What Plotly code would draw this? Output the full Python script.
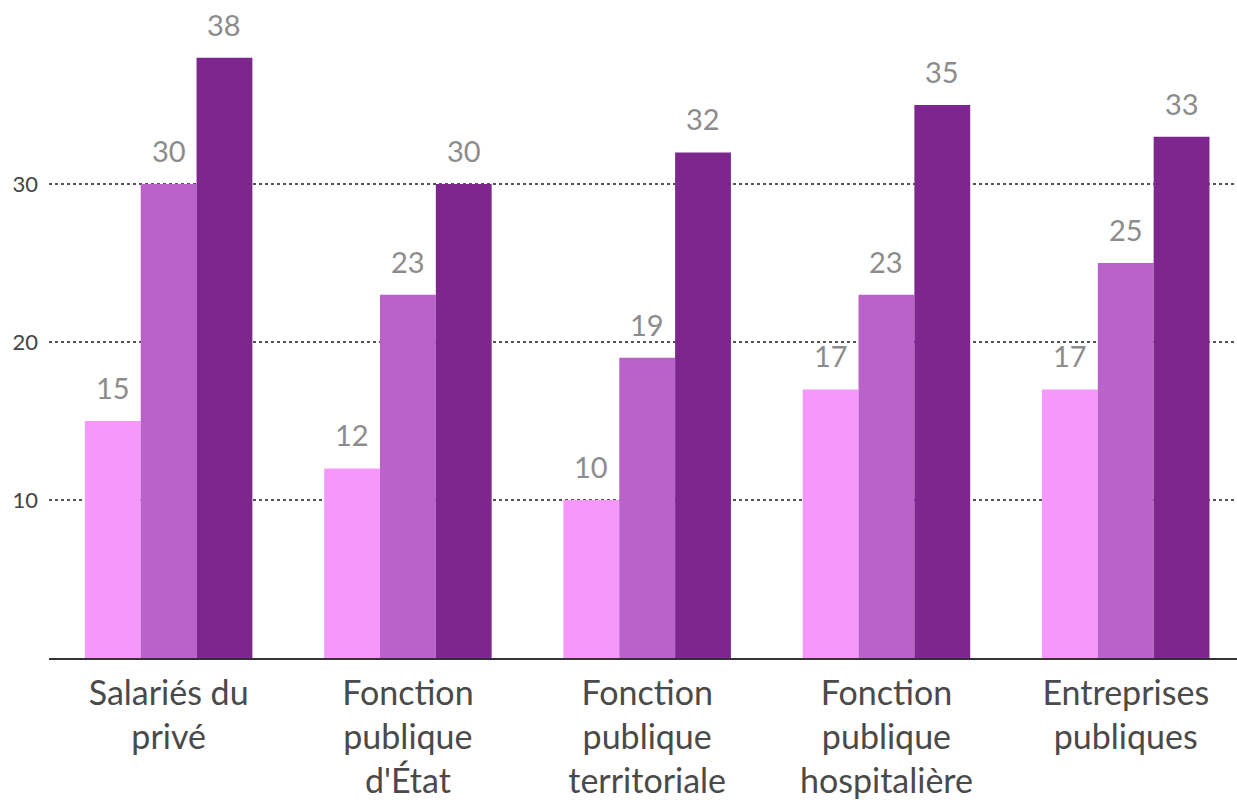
import plotly.graph_objects as go

categories = [
    "Salariés du<br>privé",
    "Fonction<br>publique<br>d'État",
    "Fonction<br>publique<br>territoriale",
    "Fonction<br>publique<br>hospitalière",
    "Entreprises<br>publiques",
]
series_a = [15, 12, 10, 17, 17]
series_b = [30, 23, 19, 23, 25]
series_c = [38, 30, 32, 35, 33]
series_values = [series_a, series_b, series_c]
colors = ["#F597FB", "#B962CA", "#7D278E"]
y_ticks = [10, 20, 30]

bargap = 0.3
n_series = len(series_values)
bar_w = (1 - bargap) / n_series
x_pos = list(range(len(categories)))

fig = go.Figure()
for vals, col in zip(series_values, colors):
    fig.add_trace(go.Bar(x=x_pos, y=vals, marker=dict(color=col, line=dict(width=0)),
                         hoverinfo="skip"))

# value labels above each bar
for i, vals in enumerate(series_values):
    off = (i - (n_series - 1) / 2) * bar_w
    for j, v in enumerate(vals):
        fig.add_annotation(x=j + off, y=v, xref="x", yref="y", text=str(v),
                           showarrow=False, yanchor="bottom", yshift=14,
                           font=dict(family="Lato", size=29, color="#8C8C8C"))

fig.update_layout(
    width=1237, height=804,
    margin=dict(l=49, r=0, t=0, b=146),
    paper_bgcolor="white", plot_bgcolor="white",
    barmode="group", bargap=bargap, bargroupgap=0,
    showlegend=False,
    font=dict(family="Lato", color="#444444"),
)
fig.update_xaxes(
    range=[-0.5, 4.465], tickvals=x_pos, ticktext=categories,
    tickfont=dict(size=34, color="#4A4A4A"), ticks="", showgrid=False,
    showline=True, linecolor="#333333", linewidth=2, zeroline=False,
    ticklabelstandoff=4,
)
fig.update_yaxes(
    range=[0, 41.65], tickvals=y_ticks, tickfont=dict(size=22, color="#444444"),
    showgrid=True, gridcolor="#555555", griddash="dot", gridwidth=1.5,
    zeroline=False, showline=False, ticks="", ticklabelstandoff=10,
)

fig.write_html("out.html")
